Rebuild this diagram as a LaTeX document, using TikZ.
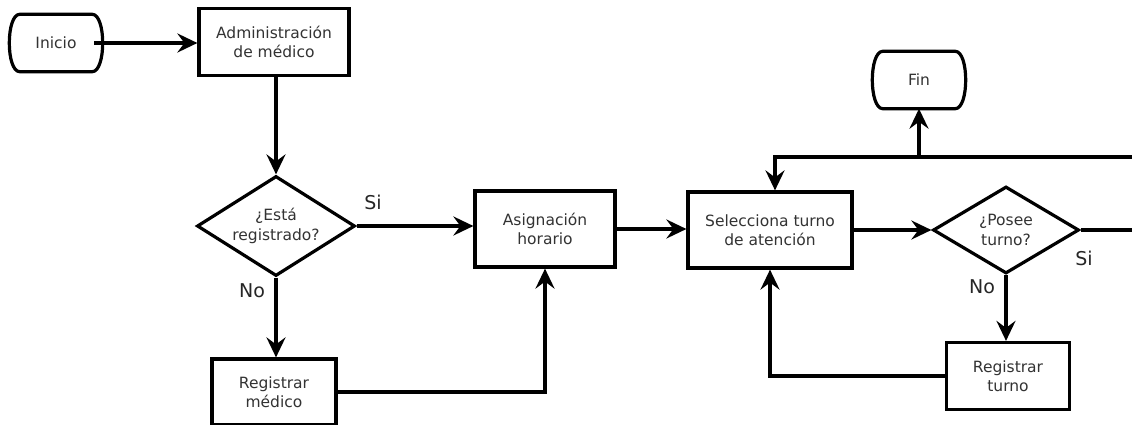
\documentclass[tikz,border=0pt]{standalone}
\usepackage{fontspec}
\setmainfont{DejaVu Sans}
\usetikzlibrary{arrows.meta,shapes.geometric}
\begin{document}
\begin{tikzpicture}[x=1pt,y=-1pt,
  txt/.style={font=\fontsize{15.5}{19.5}\selectfont, text=black!80, align=center},
  lbl/.style={font=\fontsize{19}{21}\selectfont, text=black!85},
  procbox/.style={txt, draw, line width=3.2pt, inner sep=0pt},
  decis/.style={txt, draw, line width=3.2pt, shape=diamond, inner sep=0pt},
  termin/.style={txt, inner sep=0pt, minimum width=76pt, minimum height=57pt},
  conn/.style={line width=3.2pt},
  arr/.style={conn, -{Stealth[length=20pt,width=19pt,inset=7pt]}},
  termline/.style={line width=3.2pt, line join=round}
]
\clip (0,0) rectangle (1132,425);
\fill[white] (0,0) rectangle (1132,425);

% nodes
\node[termin] (inicio) at (56,43) {Inicio};
\node[procbox, minimum width=150pt, minimum height=67pt] (admin) at (274,42) {Administración\\de médico};
\node[decis, minimum width=158pt, minimum height=100pt, aspect=1.58] (esta) at (276,226) {¿Está\\registrado?};
\node[procbox, minimum width=140pt, minimum height=76pt] (asig) at (545,229) {Asignación\\horario};
\node[procbox, minimum width=124pt, minimum height=66pt] (regmed) at (274,392) {Registrar\\médico};
\node[procbox, minimum width=164pt, minimum height=76pt] (sel) at (770,230) {Selecciona turno\\de atención};
\node[decis, minimum width=146pt, minimum height=87pt, aspect=1.68] (posee) at (1006,230) {¿Posee\\turno?};
\node[procbox, minimum width=123pt, minimum height=67pt] (regturno) at (1008,376) {Registrar\\turno};
\node[termin] (fin) at (919,80) {Fin};

% terminal outlines
\foreach \n in {inicio,fin}{
  \draw[termline] ([xshift=2pt]\n.north west) -- ([xshift=-2pt]\n.north east)
    .. controls ([xshift=12pt]\n.north east) and ([xshift=12pt]\n.south east) .. ([xshift=-2pt]\n.south east)
    -- ([xshift=2pt]\n.south west)
    .. controls ([xshift=-12pt]\n.south west) and ([xshift=-12pt]\n.north west) .. ([xshift=2pt]\n.north west) -- cycle;
}

% labels
\node[lbl] (si1) at (373,202) {Si};
\node[lbl] (no1) at (252,291) {No};
\node[lbl] (si2) at (1084,258) {Si};
\node[lbl] (no2) at (982,287) {No};

% connectors
\coordinate (loopR) at (1160,157);
\coordinate (junc) at (fin.south |- loopR);

\draw[arr] (inicio.east) -- (inicio.east -| admin.west);
\draw[arr] (admin.south -| esta.north) -- (esta.north);
\draw[arr] (esta.east) -- (esta.east -| asig.west);
\draw[arr] (esta.south) -- (esta.south |- regmed.north);
\draw[arr] (regmed.east) -| (asig.south);
\draw[arr] (asig.east) -- (asig.east -| sel.west);
\draw[arr] (sel.east) -- (posee.west);
\draw[arr] (posee.east) -| (loopR) -| ([xshift=5pt]sel.north);
\draw[arr] (junc) -- (fin.south);
\draw[arr] (posee.south) -- (posee.south |- regturno.north);
\draw[arr] (regturno.west) -| (sel.south);
\end{tikzpicture}
\end{document}
